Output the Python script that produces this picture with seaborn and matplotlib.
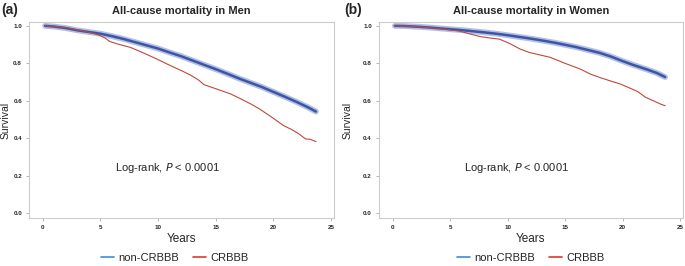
import pandas as pd
import matplotlib.pyplot as plt
from matplotlib.lines import Line2D
import seaborn as sns

# survival curves (years, survival probability)
men_non_time = [0.2, 1, 2, 3, 4, 5, 6, 7, 8, 9, 10, 11, 12, 13, 14, 15, 16, 17, 18, 19, 20, 21, 22, 23, 23.7]
men_non_surv = [1.0, 0.996, 0.988, 0.976, 0.967, 0.958, 0.945, 0.93, 0.913, 0.896, 0.879, 0.858, 0.838, 0.815,
                0.792, 0.769, 0.745, 0.72, 0.697, 0.674, 0.648, 0.622, 0.595, 0.566, 0.543]

men_cr_time = [0.2, 1, 2, 3, 4, 4.6, 5, 5.4, 5.8, 6.5, 7.6, 8.5, 9.8, 10.4, 11.1, 12, 12.8, 13.5, 14, 15,
               16.3, 17.2, 18, 18.8, 19.8, 20.9, 21.6, 22.2, 22.8, 23.2, 23.7]
men_cr_surv = [1.0, 0.997, 0.99, 0.978, 0.965, 0.956, 0.947, 0.935, 0.917, 0.903, 0.885, 0.862, 0.826, 0.808,
               0.787, 0.762, 0.738, 0.712, 0.686, 0.665, 0.637, 0.61, 0.585, 0.557, 0.516, 0.468, 0.447, 0.425,
               0.397, 0.395, 0.383]

women_non_time = [0.2, 1, 2, 3, 4, 5, 6, 7, 8, 9, 10, 11, 12, 13, 14, 15, 16, 17, 18, 19, 20, 21, 22, 23, 23.7]
women_non_surv = [1.0, 0.999, 0.996, 0.992, 0.987, 0.982, 0.977, 0.971, 0.965, 0.958, 0.95, 0.941, 0.932, 0.922,
                  0.911, 0.899, 0.886, 0.871, 0.856, 0.836, 0.812, 0.79, 0.77, 0.748, 0.727]

women_cr_time = [0.2, 1, 2, 3, 4, 5, 5.8, 6.7, 7.6, 8.5, 9.3, 10.2, 11.1, 11.9, 12.8, 13.7, 15, 16.3, 17.2, 18,
                 18.9, 19.8, 20.6, 21.3, 22, 22.7, 23.3, 23.7]
women_cr_surv = [1.0, 0.999, 0.996, 0.992, 0.986, 0.978, 0.972, 0.957, 0.943, 0.935, 0.929, 0.905, 0.876, 0.858,
                 0.845, 0.832, 0.8, 0.77, 0.743, 0.725, 0.707, 0.69, 0.669, 0.65, 0.619, 0.6, 0.583, 0.574]

x_ticks = [0, 5, 10, 15, 20, 25]
y_ticks = [0.0, 0.2, 0.4, 0.6, 0.8, 1.0]
group_labels = ['non-CRBBB', 'CRBBB']

sns.set_theme(style='white')
plt.rcParams['font.family'] = ['Liberation Sans', 'DejaVu Sans']

fig = plt.figure(figsize=(6.85, 2.66), dpi=100)
ax_a = fig.add_axes([0.0423, 0.180, 0.445, 0.737])
ax_b = fig.add_axes([0.553, 0.180, 0.444, 0.737])


def plot_km(ax, non_t, non_s, cr_t, cr_s, title, ylab_x):
    df_non = pd.DataFrame({'Years': non_t, 'Survival': non_s})
    df_cr = pd.DataFrame({'Years': cr_t, 'Survival': cr_s})
    # thick light band + darker core for the heavily censored reference group
    sns.lineplot(x='Years', y='Survival', data=df_non, ax=ax, color='#b3c0e6', linewidth=4.2, estimator=None)
    sns.lineplot(x='Years', y='Survival', data=df_non, ax=ax, color='#3d55a5', linewidth=1.8, estimator=None)
    sns.lineplot(x='Years', y='Survival', data=df_cr, ax=ax, color='#c0473b', linewidth=0.8, estimator=None)
    ax.set_xlim(-1.2, 25.25)
    ax.set_ylim(-0.025, 1.02)
    ax.set_xticks(x_ticks)
    ax.set_yticks(y_ticks)
    ax.set_xticklabels([str(v) for v in x_ticks], fontsize=4.5, fontweight='bold')
    ax.set_yticklabels([f'{v:.1f}' for v in y_ticks], fontsize=4.5, fontweight='bold')
    ax.tick_params(axis='both', length=2.5, width=0.5, color='#999999', pad=2.5, bottom=True, left=True)
    for s in ax.spines.values():
        s.set_color('#cccccc')
        s.set_linewidth(0.8)
    ax.set_xlabel('Years', fontsize=8.5, labelpad=2)
    ax.set_ylabel('Survival', fontsize=7.5)
    ax.yaxis.set_label_coords(ylab_x, 0.5)
    ax.set_title(title, fontsize=8, fontweight='bold', pad=6)
    ax.text(10.8, 0.24, r'Log-rank, $P$ < 0.0001', fontsize=8, ha='center', va='center')


plot_km(ax_a, men_non_time, men_non_surv, men_cr_time, men_cr_surv, 'All-cause mortality in Men', -0.06)
plot_km(ax_b, women_non_time, women_non_surv, women_cr_time, women_cr_surv, 'All-cause mortality in Women', -0.085)

fig.text(0.002, 0.962, '(a)', fontsize=10, fontweight='bold', ha='left', va='center')
fig.text(0.502, 0.962, '(b)', fontsize=10, fontweight='bold', ha='left', va='center')

handles = [Line2D([], [], color='#3a8ee0', lw=1.2), Line2D([], [], color='#e0362f', lw=1.2)]
for x in [0.255, 0.775]:
    fig.legend(handles, group_labels, loc='center', bbox_to_anchor=(x, 0.03), ncol=2, frameon=False,
               fontsize=8, handlelength=1.2, handletextpad=0.4, columnspacing=1.2)

plt.savefig('out.png', dpi=100)
